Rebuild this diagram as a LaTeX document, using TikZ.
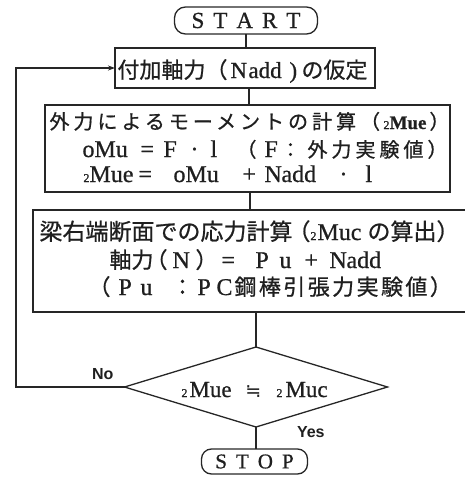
\documentclass[tikz,border=0pt]{standalone}
\usepackage{fontspec}
\setmainfont{Liberation Serif}[FakeBold=0.8]
\newfontfamily\jpfont{Noto Sans CJK JP}[FakeBold=0.8]
\newfontfamily\dvfont{DejaVu Sans}
\newfontfamily\lsans{Liberation Sans}
\usetikzlibrary{shapes.geometric,arrows.meta}
\newcommand\at[2]{\makebox[0pt][l]{\hspace*{#1pt}#2}}
\newcommand\Jp[3]{{\jpfont\fontsize{#1}{#1}\selectfont\addfontfeature{LetterSpace=#2}#3}}
\newcommand\Lt[2]{{\fontsize{#1}{#1}\selectfont #2}}
\newcommand\sub[1]{{\fontsize{12}{12}\selectfont #1}}
\begin{document}
\begin{tikzpicture}[x=1pt,y=-1pt,
  every node/.style={inner sep=0pt, outer sep=0pt, text=black!88},
  flow/.style={line width=1.3pt, draw=black!85},
  proc/.style={flow, rectangle},
  term/.style={flow, rectangle, rounded corners=11pt},
  line/.style={anchor=base west},
  lbl/.style={anchor=base west, font=\lsans\bfseries\fontsize{16}{16}\selectfont}]
\useasboundingbox (0,0) rectangle (464,477);
% terminals
\node[term, minimum width=143pt, minimum height=27pt, font=\fontsize{23}{23}\selectfont] (start) at (246,20.5) {S\kern9pt T\kern9pt A\kern9pt R\kern9pt T};
\node[term, rounded corners=10pt, minimum width=106pt, minimum height=25pt, font=\fontsize{21}{21}\selectfont] (stop) at (254.5,461.5) {S\kern9pt T\kern9pt O\kern9pt P};
% box 1
\node[proc, minimum width=260pt, minimum height=40pt] (b1) at (245,68) {};
\node[line] (b1t) at (0,78) {\at{117}{\Jp{22}{0}{付加軸力（}}\at{230}{\Lt{23}{N}}\at{248}{\Lt{23}{add}}\at{289}{\Lt{23}{)}}\at{301}{\Jp{22}{0}{の仮定}}};
% box 2
\node[proc, minimum width=405pt, minimum height=87pt] (b2) at (247.5,148.5) {};
\node[line] (b2a) at (0,129) {\at{49}{\Jp{20}{20}{外力によるモーメントの計算（}}\at{383}{\sub{2}}\at{389}{\Lt{19}{\bfseries Mue}}\at{429}{\Jp{20}{0}{）}}};
\node[line] (b2b) at (0,157) {\at{82}{\Lt{24}{oMu}}\at{140}{\Lt{24}{=}}\at{163}{\Lt{24}{F}}\at{190}{\Lt{24}{·}}\at{210}{\Lt{24}{l}}\at{236}{\Jp{20}{0}{（}}\at{264}{\Lt{24}{F}}\at{280}{\Jp{20}{0}{：}}\at{307}{\Jp{20}{20}{外力実験値）}}};
\node[line] (b2c) at (0,182) {\at{83}{\sub{2}}\at{89}{\Lt{24}{Mue}}\at{138}{\Lt{24}{=}}\at{173}{\Lt{24}{oMu}}\at{242}{\Lt{24}{+}}\at{264}{\Lt{24}{N}}\at{281}{\Lt{24}{add}}\at{339}{\Lt{24}{·}}\at{365}{\Lt{24}{l}}};
% box 3
\node[proc, minimum width=433pt, minimum height=102pt] (b3) at (249.5,261) {};
\node[line] (b3a) at (0,240) {\at{39}{\Jp{23}{0}{梁右端断面での応力計算}}\at{287}{\Jp{23}{0}{（}}\at{310}{\sub{2}}\at{317}{\Lt{24}{Muc}}\at{367}{\Jp{23}{0}{の算出）}}};
\node[line] (b3b) at (0,268) {\at{109}{\Jp{22}{0}{軸力}}\at{145}{\Jp{22}{0}{（}}\at{172}{\Lt{24}{N}}\at{195}{\Jp{22}{0}{）}}\at{221}{\Lt{24}{=}}\at{255}{\Lt{24}{P}}\at{279}{\Lt{24}{u}}\at{304}{\Lt{24}{+}}\at{329}{\Lt{24}{N}}\at{346}{\Lt{24}{add}}};
\node[line] (b3c) at (0,295) {\at{88}{\Jp{22}{0}{（}}\at{118}{\Lt{24}{P}}\at{140}{\Lt{24}{u}}\at{171}{\Jp{22}{0}{：}}\at{197}{\Lt{24}{P}}\at{216}{\Lt{24}{C}}\at{234}{\Jp{22}{11}{鋼棒引張力実験値）}}};
% decision
\node[flow, diamond, minimum width=263pt, minimum height=80pt] (dia) at (256,387) {};
\node[line] (diat) at (0,397) {\at{181}{\sub{2}}\at{189}{\Lt{23}{Mue}}\at{245}{{\dvfont\fontsize{19}{19}\selectfont ≒}}\at{276}{\sub{2}}\at{285}{\Lt{23}{Muc}}};
% connectors
\coordinate (lx) at (16,0);
\draw[flow] (start.south) -- (start.south |- b1.north);
\draw[flow] (b1.south -| 249,0) -- (b2.north -| 249,0);
\draw[flow] (b2.south -| 250,0) -- (b3.north -| 250,0);
\draw[flow] (b3.south -| dia.north) -- (dia.north);
\draw[flow] (dia.south) -- (dia.south |- stop.north);
\draw[flow, -{Stealth[length=7pt,width=5pt]}] (dia.west) -- (dia.west -| lx) |- (b1.west);
\node[lbl] (no) at (92,379) {No};
\node[lbl] (yes) at (297,437) {Yes};
\end{tikzpicture}
\end{document}
